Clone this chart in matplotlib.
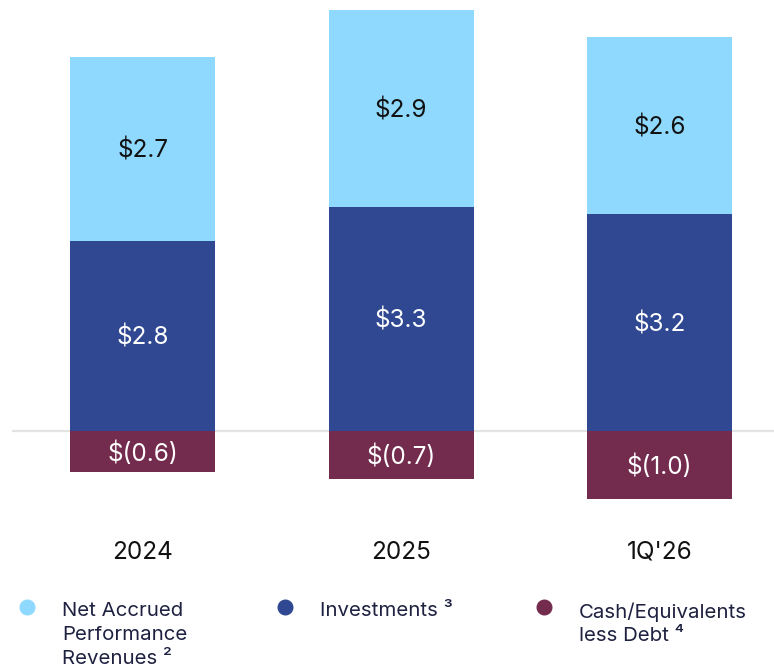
import matplotlib
matplotlib.use("Agg")
import matplotlib.pyplot as plt
from matplotlib.lines import Line2D

plt.rcParams['font.family'] = ['Inter', 'DejaVu Sans']

# data ($bn)
periods = ["2024", "2025", "1Q'26"]
cash_less_debt = [-0.6, -0.7, -1.0]
investments = [2.8, 3.3, 3.2]
net_accrued = [2.7, 2.9, 2.6]

series_names = ["Net Accrued\nPerformance\nRevenues \u00b2", "Investments \u00b3", "Cash/Equivalents\nless Debt \u2074"]
colors = ["#8FD9FF", "#2F4891", "#742C4E"]


def fmt(v):
    return f"$({abs(v):.1f})" if v < 0 else f"${v:.1f}"


fig = plt.figure(figsize=(7.74, 6.70), dpi=100)
ax = fig.add_axes([12 / 774, 160 / 670, 1 - 12 / 774, 510 / 670])

x = list(range(len(periods)))
w = 0.561

ax.axhline(0, color="#E3E3E3", lw=1.6, zorder=0)

ax.bar(x, cash_less_debt, width=w, color=colors[2], zorder=2)
ax.bar(x, investments, width=w, color=colors[1], zorder=2)
ax.bar(x, net_accrued, width=w, bottom=investments, color=colors[0], zorder=2)

dy = -0.03  # nudge labels down a touch
for i in x:
    ax.text(i, cash_less_debt[i] / 2 + dy, fmt(cash_less_debt[i]), ha="center", va="center",
            color="white", fontsize=17.5, zorder=3)
    ax.text(i, investments[i] / 2 + dy, fmt(investments[i]), ha="center", va="center",
            color="white", fontsize=17.5, zorder=3)
    ax.text(i, investments[i] + net_accrued[i] / 2 + dy, fmt(net_accrued[i]), ha="center", va="center",
            color="#111111", fontsize=17.5, zorder=3)
    ax.text(i, -1.78, periods[i], ha="center", va="center", color="#111111",
            fontsize=17.5, clip_on=False)

ax.set_xlim(-0.505, 2.443)
ax.set_ylim(-1.16, 6.34)
ax.axis("off")

# legend drawn by hand (three columns, multi-line labels)
leg_x = [27, 285, 544]
for lx, name, c in zip(leg_x, series_names, colors):
    fig.add_artist(Line2D([lx / 774], [1 - 607 / 670], marker="o", markersize=10.5,
                          color=c, linestyle="none", transform=fig.transFigure))
    fig.text((lx + 35) / 774, 1 - 602 / 670, name, ha="left", va="top", fontsize=14.7,
             color="#1E2140", linespacing=1.42)

fig.savefig("out.png", dpi=100)
